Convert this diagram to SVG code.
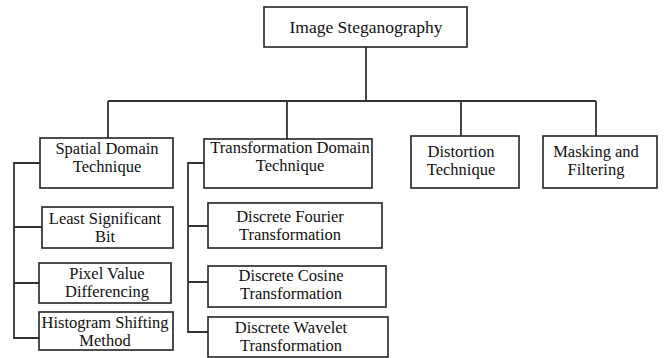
<svg xmlns="http://www.w3.org/2000/svg" width="664" height="358" viewBox="0 0 664 358">
<style>
.box{fill:#fff;stroke:#222;stroke-width:1.6}
.ln{fill:none;stroke:#333;stroke-width:1.8}
.t text{font-size:16.5px;fill:#111;text-anchor:middle}
</style>
<rect width="664" height="358" fill="#fff"/>
<g id="connectors">
<path class="ln" d="M366 47V101M108 101H596M108 101V138M287 101V139M461 101V136M596 101V136"/>
<path class="ln" d="M40 163H14V338H40M14 227H42M14 283H39"/>
<path class="ln" d="M204 163H188V332H208M188 226H208M188 282H208"/>
</g>
<g class="t" font-family="'Liberation Serif', 'Times New Roman', serif">
<g id="n-root"><rect class="box" x="264" y="7" width="203" height="40"/><text x="366" y="33" style="font-size:17.5px">Image Steganography</text></g>
<g id="n-spatial"><rect class="box" x="40" y="138" width="133" height="50"/><text x="107" y="154">Spatial Domain</text><text x="107" y="172">Technique</text></g>
<g id="n-transform"><rect class="box" x="204" y="139" width="168" height="49"/><text x="290" y="153">Transformation Domain</text><text x="290" y="171">Technique</text></g>
<g id="n-distortion"><rect class="box" x="411" y="136" width="108" height="52"/><text x="461" y="157">Distortion</text><text x="461" y="175">Technique</text></g>
<g id="n-masking"><rect class="box" x="543" y="136" width="114" height="52"/><text x="596" y="157">Masking and</text><text x="596" y="175">Filtering</text></g>
<g id="n-lsb"><rect class="box" x="42" y="207" width="131" height="41"/><text x="105" y="224">Least Significant</text><text x="105" y="242">Bit</text></g>
<g id="n-pvd"><rect class="box" x="39" y="263" width="132" height="40"/><text x="107" y="279">Pixel Value</text><text x="107" y="297">Differencing</text></g>
<g id="n-hist"><rect class="box" x="39" y="312" width="134" height="38"/><text x="105" y="328">Histogram Shifting</text><text x="105" y="346">Method</text></g>
<g id="n-dft"><rect class="box" x="208" y="203" width="174" height="45"/><text x="290" y="222">Discrete Fourier</text><text x="290" y="240">Transformation</text></g>
<g id="n-dct"><rect class="box" x="208" y="266" width="178" height="41"/><text x="291" y="281">Discrete Cosine</text><text x="291" y="299">Transformation</text></g>
<g id="n-dwt"><rect class="box" x="208" y="317" width="180" height="40"/><text x="291" y="333">Discrete Wavelet</text><text x="291" y="351">Transformation</text></g>
</g>
</svg>
